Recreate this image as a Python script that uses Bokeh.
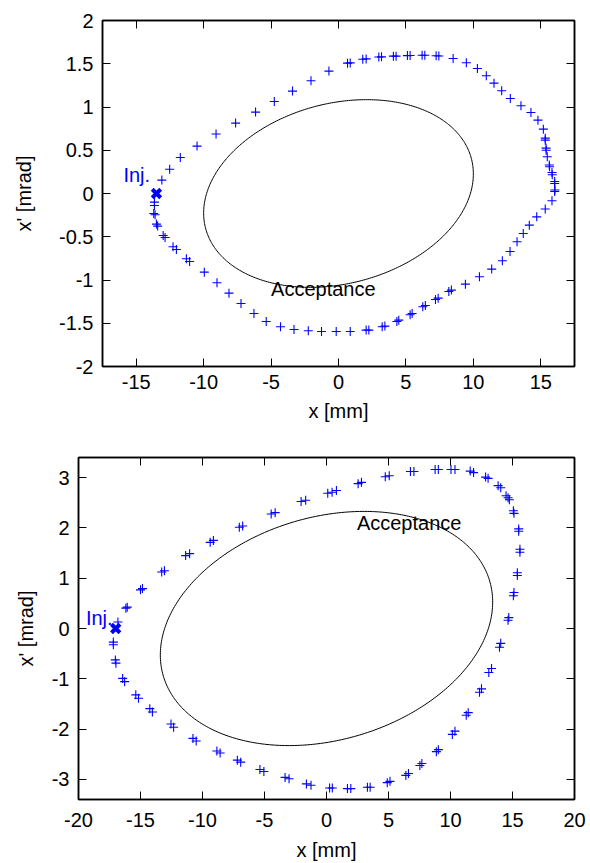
import numpy as np
from bokeh.plotting import figure
from bokeh.models import Range1d, FixedTicker, NumeralTickFormatter, LinearAxis, Label
from bokeh.embed import file_html
from bokeh.resources import INLINE

# ---------------- data: top panel ----------------
top_x = [-13.10, -12.52, -11.73, -10.49, -9.08, -7.63, -6.15, -4.76, -3.41, -2.04, -0.71,
         0.67, 0.87, 1.80, 2.05, 2.99, 3.19, 4.07, 4.27, 5.11, 5.31, 6.20, 6.40, 7.24, 7.44,
         8.50, 9.48, 10.30, 10.96, 11.53, 12.10, 12.74, 13.53, 14.27, 14.79, 15.19, 15.33, 15.33,
         15.39, 15.40, 15.48, 15.63, 15.65, 15.83, 15.85, 16.03, 16.03, 16.05, 16.03,
         15.83, 15.33, 14.70, 14.15, 13.70, 13.24, 12.72, 12.15, 11.36, 10.45, 9.41, 8.37, 8.18,
         7.39, 7.19, 6.44, 6.25, 5.46, 5.31, 4.47, 4.33, 3.44, 3.24, 2.25, 2.05, 0.87, -0.17,
         -1.26, -2.24, -3.30, -4.30, -5.36, -6.27, -7.23, -8.12, -9.01, -9.95, -11.04, -11.28,
         -12.02, -12.27, -12.86, -13.00, -13.41, -13.50, -13.60, -13.70, -13.65, -13.65]
top_xp = [0.155, 0.280, 0.416, 0.548, 0.687, 0.814, 0.941, 1.064, 1.184, 1.303, 1.415,
          1.507, 1.510, 1.552, 1.556, 1.578, 1.580, 1.588, 1.588, 1.594, 1.595, 1.598, 1.598, 1.592, 1.590,
          1.561, 1.511, 1.445, 1.361, 1.276, 1.187, 1.098, 1.014, 0.936, 0.848, 0.744, 0.640, 0.617,
          0.525, 0.500, 0.424, 0.330, 0.310, 0.243, 0.216, 0.139, 0.116, 0.040, 0.023,
          -0.084, -0.180, -0.270, -0.366, -0.462, -0.558, -0.670, -0.778, -0.874, -0.963, -1.048, -1.117, -1.133,
          -1.210, -1.225, -1.295, -1.310, -1.387, -1.402, -1.464, -1.480, -1.533, -1.541, -1.579, -1.579, -1.595, -1.595,
          -1.595, -1.587, -1.572, -1.541, -1.480, -1.387, -1.272, -1.152, -1.032, -0.909, -0.786, -0.755,
          -0.647, -0.616, -0.509, -0.486, -0.377, -0.354, -0.246, -0.231, -0.139, -0.100]
top_inj_x = [-13.5]
top_inj_xp = [0.0]
# acceptance ellipse (Twiss): emittance [mm mrad], alpha, beta [m]
top_acc_emit, top_acc_alpha, top_acc_beta = 10.61, -0.213, 9.425
top_xticks = [-15, -10, -5, 0, 5, 10, 15]
top_yticks = [-2, -1.5, -1, -0.5, 0, 0.5, 1, 1.5, 2]

# ---------------- data: bottom panel ----------------
bot_x = [-16.82, -16.18, -16.07, -15.00, -14.84, -13.29, -13.07, -11.36, -11.04, -9.38, -9.12,
         -7.03, -6.76, -4.46, -4.14, -2.05, -1.68, 0.10, 0.45, 0.80, 2.55, 2.82, 4.74, 5.06,
         6.77, 7.05, 8.76, 9.02, 10.04, 10.36, 11.59, 11.86, 12.83, 13.03, 13.84, 14.05,
         14.48, 14.64, 14.75, 15.07, 15.12, 15.50, 15.50, 15.60, 15.60, 15.39, 15.39, 15.12, 15.07,
         14.70, 14.64,
         14.05, 13.95, 13.31, 13.09, 12.50, 12.34, 11.43, 11.27, 10.36, 10.15, 9.02, 8.86,
         7.69, 7.53, 6.61, 6.40, 5.12, 4.90, 3.52, 3.30, 1.96, 1.69, 0.47, 0.25,
         -1.25, -1.62, -3.02, -3.34, -5.05, -5.37, -6.92, -7.19, -8.58, -8.84, -10.51, -10.77,
         -12.33, -12.54, -14.04, -14.25, -15.16, -15.38, -16.28, -16.44, -16.98, -17.03, -17.19, -17.19]
bot_xp = [0.130, 0.405, 0.425, 0.768, 0.793, 1.122, 1.148, 1.449, 1.488, 1.713, 1.752,
          2.014, 2.039, 2.276, 2.303, 2.526, 2.551, 2.690, 2.710, 2.745, 2.880, 2.906, 3.018, 3.037,
          3.122, 3.122, 3.161, 3.161, 3.161, 3.161, 3.130, 3.100, 3.010, 2.985, 2.840, 2.800,
          2.640, 2.600, 2.560, 2.340, 2.290, 1.980, 1.935, 1.575, 1.516, 1.108, 1.055, 0.715, 0.650,
          0.217, 0.163,
          -0.295, -0.374, -0.795, -0.874, -1.200, -1.268, -1.673, -1.726, -2.041, -2.106, -2.409, -2.449,
          -2.685, -2.724, -2.882, -2.921, -3.039, -3.065, -3.157, -3.157, -3.183, -3.183, -3.170, -3.170,
          -3.118, -3.090, -2.986, -2.961, -2.843, -2.803, -2.657, -2.618, -2.474, -2.435, -2.238, -2.185,
          -1.963, -1.898, -1.661, -1.594, -1.386, -1.319, -1.057, -0.992, -0.689, -0.624, -0.323, -0.270]
bot_inj_x = [-17.0]
bot_inj_xp = [0.0]
bot_acc_emit, bot_acc_alpha, bot_acc_beta = 30.39, -0.232, 5.909
bot_xticks = [-20, -15, -10, -5, 0, 5, 10, 15, 20]
bot_yticks = [-3, -2, -1, 0, 1, 2, 3]

FONT = "Liberation Sans"
FS = "20px"
BLUE = "#0000ff"


def twiss_ellipse(emit, alpha, beta, n=400):
    phi = np.linspace(0, 2 * np.pi, n)
    x = np.sqrt(emit * beta) * np.cos(phi)
    xp = -np.sqrt(emit / beta) * (alpha * np.cos(phi) + np.sin(phi))
    return x, xp


def style_axis(ax, ticks, labels=True):
    ax.ticker = FixedTicker(ticks=ticks)
    ax.major_tick_in = 8
    ax.major_tick_out = 0
    ax.minor_tick_line_color = None
    ax.major_tick_line_color = "black"
    ax.major_tick_line_width = 1
    ax.axis_line_color = "black"
    ax.axis_line_width = 1.5
    if labels:
        ax.formatter = NumeralTickFormatter(format="0.[0]")
        ax.major_label_text_font = FONT
        ax.major_label_text_font_size = FS
        ax.major_label_text_color = "black"
        ax.axis_label_text_font = FONT
        ax.axis_label_text_font_size = FS
        ax.axis_label_text_font_style = "normal"
        ax.axis_label_text_color = "black"
    else:
        ax.major_label_text_color = None
        ax.major_label_text_font_size = "0px"
        ax.major_label_standoff = 0


def make_panel(height, xr, yr, xticks, yticks, borders, xs, xps, ix, ixp, acc,
               inj_pos, acc_pos, ylab_standoff, xlab_standoff, xtick_standoff):
    left, right, top, bottom = borders
    p = figure(width=590, height=height, x_range=Range1d(*xr), y_range=Range1d(*yr),
               output_backend="svg", toolbar_location=None, tools="",
               min_border_left=left, min_border_right=right,
               min_border_top=top, min_border_bottom=bottom)
    p.grid.visible = False
    p.outline_line_color = "black"
    p.outline_line_width = 1.5
    p.background_fill_color = "white"
    p.border_fill_color = "white"

    style_axis(p.xaxis[0], xticks)
    style_axis(p.yaxis[0], yticks)
    p.xaxis[0].axis_label = "x [mm]"
    p.yaxis[0].axis_label = "x' [mrad]"
    p.yaxis[0].major_label_standoff = 9
    p.yaxis[0].axis_label_standoff = ylab_standoff
    p.xaxis[0].major_label_standoff = xtick_standoff
    p.xaxis[0].axis_label_standoff = xlab_standoff

    ax_top = LinearAxis()
    style_axis(ax_top, xticks, labels=False)
    p.add_layout(ax_top, "above")
    ax_right = LinearAxis()
    style_axis(ax_right, yticks, labels=False)
    p.add_layout(ax_right, "right")

    ex, exp_ = twiss_ellipse(*acc)
    p.line(ex, exp_, line_color="black", line_width=1)

    p.scatter(xs, xps, marker="cross", size=9, line_color=BLUE, line_width=1.1)
    p.scatter(ix, ixp, marker="x", size=12, line_color=BLUE, line_width=4)

    p.add_layout(Label(x=inj_pos[0], y=inj_pos[1], text="Inj.", text_color=BLUE,
                       text_font=FONT, text_font_size=FS, text_align="left",
                       text_baseline="middle"))
    p.add_layout(Label(x=acc_pos[0], y=acc_pos[1], text="Acceptance", text_color="black",
                       text_font=FONT, text_font_size=FS, text_align="left",
                       text_baseline="middle"))
    return p


p1 = make_panel(430, (-17.5, 17.5), (-2, 2), top_xticks, top_yticks, (102, 16, 20, 64),
                top_x, top_xp, top_inj_x, top_inj_xp,
                (top_acc_emit, top_acc_alpha, top_acc_beta),
                (-15.95, 0.21), (-5.0, -1.1), 21, 8, 8)
p2 = make_panel(433, (-20, 20), (-3.4, 3.4), bot_xticks, bot_yticks, (78, 16, 27, 61),
                bot_x, bot_xp, bot_inj_x, bot_inj_xp,
                (bot_acc_emit, bot_acc_alpha, bot_acc_beta),
                (-19.4, 0.2), (2.45, 2.1), 12, 9, 13)

open("out.html", "w").write(file_html([p1, p2], INLINE))
